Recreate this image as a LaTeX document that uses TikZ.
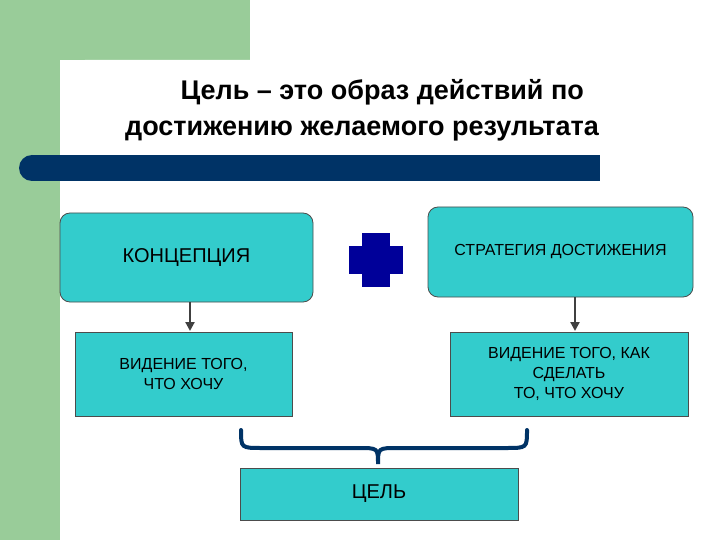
\documentclass[tikz,border=0pt]{standalone}
\usepackage{fontspec}
\setmainfont{Liberation Sans}
\usetikzlibrary{arrows.meta}
\begin{document}
\begin{tikzpicture}[x=1pt,y=-1pt,
  box/.style={draw=black!70,fill=cyan!60!teal!70!white,line width=0.8pt,align=center,inner sep=2pt},
  arr/.style={draw=black!75,line width=2.2pt,-{Triangle[length=9pt,width=9pt]}}]
\definecolor{gr}{HTML}{99CC99}
\definecolor{bar}{HTML}{003366}
\definecolor{cy}{HTML}{33CCCC}
\useasboundingbox (0,0) rectangle (720,540);
\fill[white] (0,0) rectangle (720,540);
\fill[gr] (0,0) rectangle (250,60);
\fill[gr] (0,0) rectangle (60,540);
\fill[white] (60,540) -- (60,85) arc[start angle=180,end angle=270,radius=25] -- (250,60) -- (250,540) -- cycle;
\node[font=\bfseries\fontsize{27}{36}\selectfont,align=center] (title) at (362,110) {\hspace*{1.5em}Цель -- это образ действий по\\достижению желаемого результата};
\fill[bar] (32,155) rectangle (600,181);
\fill[bar] (32,168) circle[radius=13];
\node[box,fill=cy,rounded corners=10pt,minimum width=253pt,minimum height=89pt,font=\fontsize{20}{24}\selectfont] (k) at (186.5,257.5) {КОНЦЕПЦИЯ};
\node[box,fill=cy,rounded corners=10pt,minimum width=265pt,minimum height=90pt,font=\fontsize{16}{19}\selectfont] (s) at (560.5,252) {\raisebox{4pt}{СТРАТЕГИЯ ДОСТИЖЕНИЯ}};
\fill[blue!60!black] (362,233) rectangle (390,287);
\fill[blue!60!black] (349,246) rectangle (403,274);
\node[box,fill=cy,minimum width=217pt,minimum height=84pt,font=\fontsize{16}{20}\selectfont] (v1) at (183.5,374) {ВИДЕНИЕ ТОГО,\\ЧТО ХОЧУ};
\node[box,fill=cy,minimum width=238pt,minimum height=84pt,font=\fontsize{16}{20}\selectfont] (v2) at (569,374) {ВИДЕНИЕ ТОГО, КАК\\СДЕЛАТЬ\\ТО, ЧТО ХОЧУ};
\node[box,fill=cy,minimum width=278pt,minimum height=52pt,font=\fontsize{20}{24}\selectfont] (c) at (379,494) {ЦЕЛЬ};
\coordinate (a1) at (190,302); \coordinate (b1) at (190,331);
\coordinate (a2) at (575,297); \coordinate (b2) at (575,331);
\draw[arr] (a1) -- (b1);
\draw[arr] (a2) -- (b2);
\draw[bar,line width=4pt,line cap=round] (241,430) .. controls (241,448) .. (262,448) -- (358,448) .. controls (378,448) .. (378,464) .. controls (378,448) .. (398,448) -- (506,448) .. controls (527,448) .. (527,430);
\end{tikzpicture}
\end{document}
